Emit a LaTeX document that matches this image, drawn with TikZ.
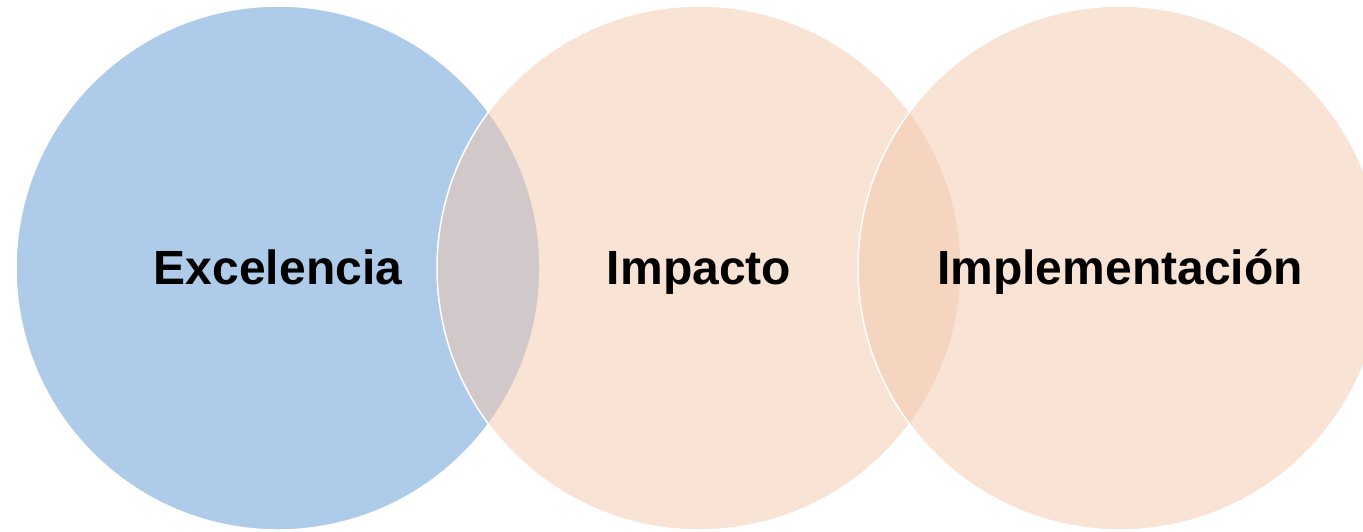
\documentclass[tikz,border=0pt]{standalone}
\usepackage{fontspec}
\setmainfont{Liberation Sans}
\definecolor{blueA}{RGB}{174,203,233}
\definecolor{peachA}{RGB}{243,199,171}
\tikzset{
  venn/.style={circle, minimum size=524pt, inner sep=0pt, draw=white, line width=1.5pt},
  lbl/.style={font=\fontsize{48}{58}\selectfont\bfseries, text=black, anchor=base}
}
\begin{document}
\begin{tikzpicture}[x=1pt,y=-1pt]
\useasboundingbox (0,0) rectangle (1363,531);
\clip (0,0) rectangle (1363,531);
\node[venn, fill=blueA] (c1) at (278,268) {};
\node[lbl] (t1) at (278,284) {Excelencia};
\node[venn, fill=peachA, fill opacity=0.5] (c2) at (699,268) {};
\node[lbl] (t2) at (699,284) {Impacto};
\node[venn, fill=peachA, fill opacity=0.5] (c3) at (1120,268) {};
\node[lbl] (t3) at (1120,284) {Implementación};
\end{tikzpicture}
\end{document}
